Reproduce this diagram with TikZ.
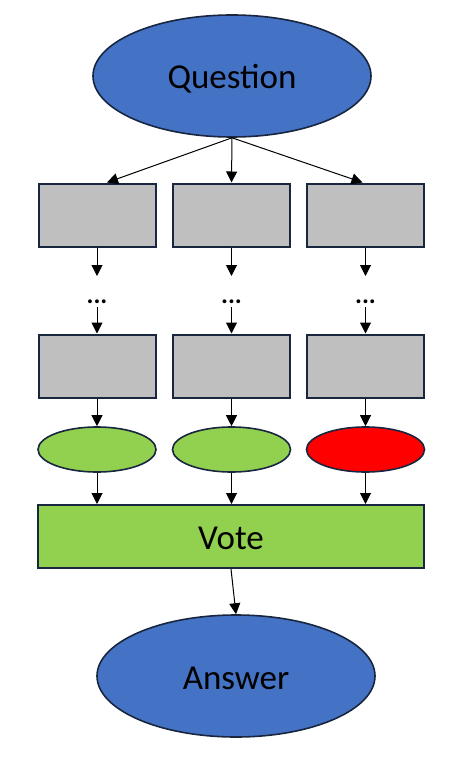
\documentclass[tikz,border=0pt]{standalone}
\usepackage{fontspec}
\setmainfont{Carlito}
\usetikzlibrary{shapes.geometric,arrows.meta,calc}
\definecolor{qblue}{RGB}{68,114,196}
\definecolor{boxgray}{RGB}{191,191,191}
\definecolor{lgreen}{RGB}{146,208,80}
\definecolor{bred}{RGB}{255,0,0}
\definecolor{edge}{RGB}{24,38,64}
\newcommand{\lowtext}[2]{\raisebox{-#1pt}[0pt][0pt]{#2}}
\begin{document}
\begin{tikzpicture}[x=1pt,y=-1pt,
  bigell/.style={ellipse,draw=edge,line width=1.6pt,fill=qblue,minimum width=278pt,minimum height=122pt,inner sep=0pt,font=\fontsize{35}{40}\selectfont},
  graybox/.style={rectangle,draw=edge,line width=2pt,fill=boxgray,minimum width=117pt,minimum height=63pt,inner sep=0pt},
  smallell/.style={ellipse,draw=edge,line width=1.6pt,minimum width=118pt,minimum height=45pt,inner sep=0pt},
  votebox/.style={rectangle,draw=edge,line width=2pt,fill=lgreen,minimum width=386pt,minimum height=63pt,inner sep=0pt,font=\fontsize{35}{40}\selectfont},
  dotsnode/.style={inner sep=0pt,font=\bfseries\fontsize{26}{28}\selectfont},
  arr/.style={-{Triangle[length=11pt,width=11pt]},line width=1pt,black}]
\useasboundingbox (0,0) rectangle (452,762);
\node[bigell] (q) at (232,76) {\lowtext{12.3}{Question}};
\node[graybox] (r1) at (97,215) {};
\node[graybox] (r2) at (231.5,215) {};
\node[graybox] (r3) at (365.5,215) {};
\node[dotsnode] (d1) at (97,303) {\lowtext{0}{...}};
\node[dotsnode] (d2) at (231.5,303) {\lowtext{0}{...}};
\node[dotsnode] (d3) at (365.5,303) {\lowtext{0}{...}};
\coordinate (d1t) at (97,276);
\coordinate (d2t) at (231.5,276);
\coordinate (d3t) at (365.5,276);
\coordinate (d1b) at (97,307);
\coordinate (d2b) at (231.5,307);
\coordinate (d3b) at (365.5,307);
\node[graybox] (s1) at (97,366) {};
\node[graybox] (s2) at (231.5,366) {};
\node[graybox] (s3) at (365.5,366) {};
\node[smallell,fill=lgreen] (e1) at (97,449.5) {};
\node[smallell,fill=lgreen] (e2) at (231.5,449.5) {};
\node[smallell,fill=bred] (e3) at (365.5,449.5) {};
\node[votebox] (v) at (231,536.5) {\lowtext{12.8}{Vote}};
\node[bigell] (a) at (236,676) {\lowtext{13.3}{Answer}};
\draw[arr] (q.south) -- ($(r1.north)+(10,0)$);
\draw[arr] (q.south) -- (r2.north);
\draw[arr] (q.south) -- ($(r3.north)+(-3,0)$);
\foreach \i in {1,2,3}{
  \draw[arr] (r\i.south) -- (d\i t);
  \draw[arr] (d\i b) -- (s\i.north);
  \draw[arr] (s\i.south) -- (e\i.north);
  \draw[arr] (e\i.south) -- (e\i.south |- v.north);
}
\draw[arr] (v.south) -- (a.north);
\end{tikzpicture}
\end{document}
